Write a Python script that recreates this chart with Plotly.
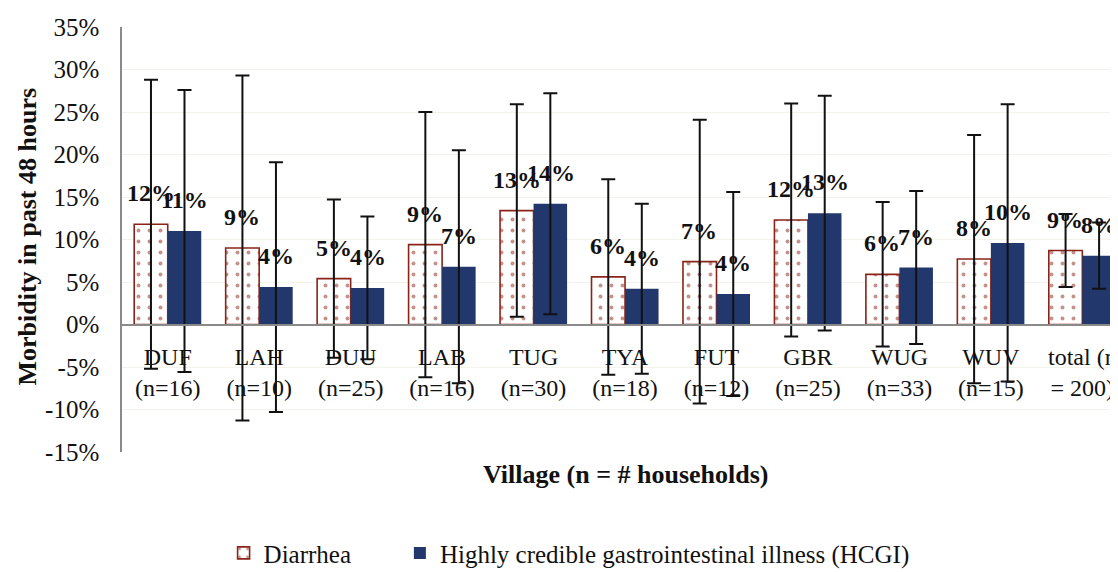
import plotly.graph_objects as go

categories = ["DUF<br>(n=16)", "LAH<br>(n=10)", "DUU<br>(n=25)", "LAB<br>(n=16)", "TUG<br>(n=30)",
              "TYA<br>(n=18)", "FUT<br>(n=12)", "GBR<br>(n=25)", "WUG<br>(n=33)", "WUV<br>(n=15)",
              "total (n<br>= 200)"]
diarrhea = [11.8, 9.0, 5.4, 9.4, 13.4, 5.6, 7.4, 12.3, 5.9, 7.7, 8.7]
diarrhea_err = [17.0, 20.3, 9.3, 15.6, 12.5, 11.5, 16.7, 13.7, 8.5, 14.6, 4.3]
diarrhea_labels = ["12%", "9%", "5%", "9%", "13%", "6%", "7%", "12%", "6%", "8%", "9%"]
hcgi = [11.0, 4.4, 4.3, 6.8, 14.2, 4.2, 3.6, 13.1, 6.7, 9.6, 8.1]
hcgi_err = [16.6, 14.7, 8.4, 13.7, 13.0, 10.0, 12.0, 13.8, 9.0, 16.3, 3.9]
hcgi_labels = ["11%", "4%", "4%", "7%", "14%", "4%", "4%", "13%", "7%", "10%", "8%"]
y_ticks = [35, 30, 25, 20, 15, 10, 5, 0, -5, -10, -15]

FONT = "Liberation Serif, Times New Roman, serif"
RED = "#8A2418"
NAVY = "#22386D"

fig = go.Figure()
fig.add_trace(go.Bar(
    name="Diarrhea", x=categories, y=diarrhea, legend="legend",
    marker=dict(color="white", line=dict(color=RED, width=1.6),
                pattern=dict(shape=".", fgcolor=RED, bgcolor="white", size=11, solidity=0.1)),
    error_y=dict(type="data", array=diarrhea_err, symmetric=True, color="#111111", thickness=2, width=7),
))
fig.add_trace(go.Bar(
    name="Highly credible gastrointestinal illness (HCGI)", x=categories, y=hcgi, legend="legend2",
    marker=dict(color=NAVY, line=dict(color=NAVY, width=0)),
    error_y=dict(type="data", array=hcgi_err, symmetric=True, color="#111111", thickness=2, width=7),
))

annotations = []
for cat, v, t in zip(categories, diarrhea, diarrhea_labels):
    annotations.append(dict(x=cat, y=v, text="<b>" + t + "</b>", showarrow=False, xshift=-17, yshift=16,
                            yanchor="bottom", font=dict(family=FONT, size=24, color="#111111")))
for cat, v, t in zip(categories, hcgi, hcgi_labels):
    annotations.append(dict(x=cat, y=v, text="<b>" + t + "</b>", showarrow=False, xshift=17, yshift=16,
                            yanchor="bottom", font=dict(family=FONT, size=24, color="#111111")))

annotations.append(dict(xref="paper", yref="paper", x=-0.0944, y=0.507, text="<b>Morbidity in past 48 hours</b>",
                        textangle=-90, showarrow=False, xanchor="center", yanchor="middle",
                        font=dict(family=FONT, size=26, color="#111111")))
annotations.append(dict(xref="paper", yref="paper", x=0.506, y=-0.052, text="<b>Village (n = # households)</b>",
                        showarrow=False, xanchor="center", yanchor="middle",
                        font=dict(family=FONT, size=26, color="#111111")))

legend_font = dict(family=FONT, size=25, color="#111111")
fig.update_layout(
    width=1110, height=564,
    margin=dict(l=114, r=0, t=19, b=120, autoexpand=False),
    paper_bgcolor="white", plot_bgcolor="white",
    barmode="group", bargap=0.267, bargroupgap=0,
    font=dict(family=FONT, size=24, color="#111111"),
    showlegend=True,
    legend=dict(orientation="h", x=0.102, xanchor="left", y=-0.238, yanchor="middle", font=legend_font,
                borderwidth=0, tracegroupgap=0),
    legend2=dict(orientation="h", x=0.279, xanchor="left", y=-0.238, yanchor="middle", font=legend_font,
                 borderwidth=0, tracegroupgap=0),
    annotations=annotations,
)
fig.update_xaxes(type="category", range=[-0.5, 10.39], anchor="free", position=0.3, automargin=False,
                 showline=True, linecolor="#8A8A8A", linewidth=1.5, showgrid=False,
                 ticks="outside", ticklen=11, tickcolor="rgba(0,0,0,0)",
                 tickfont=dict(family=FONT, size=24, color="#111111"), tickangle=0)
fig.update_yaxes(range=[-15, 35], tickvals=y_ticks, ticktext=[f"{v}%" for v in y_ticks], automargin=False,
                 showline=True, linecolor="#8A8A8A", linewidth=1.5,
                 showgrid=True, gridcolor="#F3F3EA", gridwidth=1, zeroline=False,
                 ticks="outside", ticklen=16, tickcolor="rgba(0,0,0,0)",
                 tickfont=dict(family=FONT, size=25, color="#111111"))

fig.write_html("out.html")
